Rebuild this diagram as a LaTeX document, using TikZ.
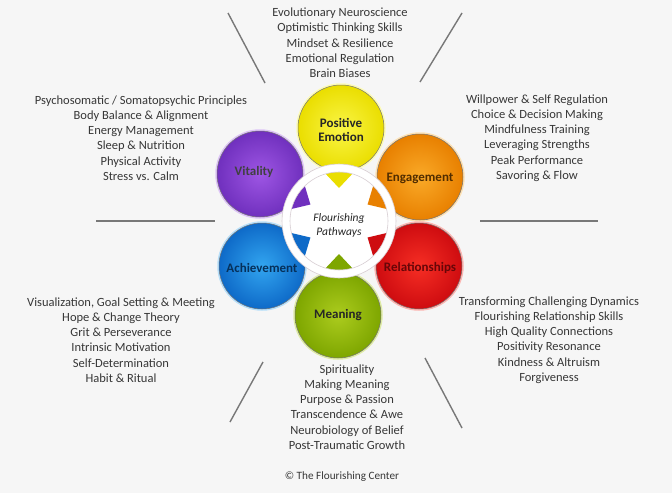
\documentclass[tikz,border=0pt]{standalone}
\usepackage{fontspec}
\setmainfont{Carlito}
\usetikzlibrary{calc}
\definecolor{bg}{RGB}{246,246,246}
\definecolor{txtgray}{RGB}{55,55,55}
\definecolor{linegray}{RGB}{120,120,120}
\definecolor{yi}{RGB}{250,245,70}
\definecolor{yo}{RGB}{234,222,0}
\definecolor{vi}{RGB}{158,86,228}
\definecolor{vo}{RGB}{112,48,190}
\definecolor{ei}{RGB}{250,170,40}
\definecolor{eo}{RGB}{232,128,0}
\definecolor{ai}{RGB}{50,165,240}
\definecolor{ao}{RGB}{14,106,200}
\definecolor{ri}{RGB}{246,46,36}
\definecolor{ro}{RGB}{206,12,16}
\definecolor{mi}{RGB}{172,204,30}
\definecolor{mo}{RGB}{126,166,0}
\definecolor{ringedge}{RGB}{215,205,210}
\begin{document}
\begin{tikzpicture}[x=1pt,y=-1pt,
  petal/.style n args={3}{circle, minimum size=86pt, inner sep=0pt,
    inner color=#1, outer color=#2, draw=black!55, line width=0.5pt,
    preaction={draw=#3, line width=3.5pt}},
  plabel/.style={font=\fontsize{13}{14}\selectfont\bfseries, align=center, inner sep=0pt},
  txt/.style={align=center, font=\fontsize{12.5}{15.3}\selectfont, text=txtgray, inner sep=0pt},
  deco/.style={draw=linegray, line width=1.4pt}]
\useasboundingbox (0,0) rectangle (672,493);
\fill[bg] (0,0) rectangle (672,493);

% petals
\node[petal={yi}{yo}{yi!40}] (pe) at (341,128) {};
\node[petal={vi}{vo}{vi!35}] (vt) at (260,174) {};
\node[petal={ei}{eo}{ei!35}] (en) at (420,177) {};
\node[petal={ai}{ao}{ai!35}] (ac) at (262,266) {};
\node[petal={ri}{ro}{ri!35}] (re) at (419,266) {};
\node[petal={mi}{mo}{mi!40}] (me) at (338,315) {};

% centre
\coordinate (c) at (339,221);
\fill[white] (c) circle (52);
\foreach \a/\col in {270/yo,210/vo,330/eo,150/ao,30/ro,90/mo}{
  \fill[\col] ($(c)+(\a:33)$) -- ($(c)+(\a+18:53)$) -- ($(c)+(\a-18:53)$) -- cycle;
}
\draw[white, line width=8pt] (c) circle (53);
\draw[ringedge, line width=0.6pt] (c) circle (49) (c) circle (57);
\node[font=\fontsize{11.5}{14}\selectfont\itshape, align=center, text=black!85, inner sep=0pt] (fp) at (339,225) {Flourishing\\Pathways};

% petal labels
\node[plabel, text=black!85] (pel) at (341,130) {Positive\\Emotion};
\node[plabel, text=black!75] (vtl) at (254,172) {Vitality};
\node[plabel, text=black!65!eo] (enl) at (420,178) {Engagement};
\node[plabel, text=ao!45!black] (acl) at (262,268) {Achievement};
\node[plabel, text=ro!50!black] (rel) at (420,268) {Relationships};
\node[plabel, text=black!85] (mel) at (338,315) {Meaning};

% decorative lines
\coordinate (tl1) at (228,13); \coordinate (tl2) at (265,83);
\coordinate (tr1) at (462,13); \coordinate (tr2) at (420,82);
\coordinate (l1) at (96,221);  \coordinate (l2) at (215,221);
\coordinate (r1) at (480,221); \coordinate (r2) at (598,221);
\coordinate (bl1) at (263,362); \coordinate (bl2) at (230,422);
\coordinate (br1) at (425,358); \coordinate (br2) at (462,428);
\draw[deco] (tl1) -- (tl2);
\draw[deco] (tr1) -- (tr2);
\draw[deco] (l1) -- (l2);
\draw[deco] (r1) -- (r2);
\draw[deco] (bl1) -- (bl2);
\draw[deco] (br1) -- (br2);

% text blocks
\node[txt] (tpos) at (340,43) {Evolutionary Neuroscience\\Optimistic Thinking Skills\\Mindset \& Resilience\\Emotional Regulation\\Brain Biases};
\node[txt] (tvit) at (141,138) {Psychosomatic / Somatopsychic Principles\\Body Balance \& Alignment\\Energy Management\\Sleep \& Nutrition\\Physical Activity\\Stress vs. Calm};
\node[txt] (teng) at (537,138) {Willpower \& Self Regulation\\Choice \& Decision Making\\Mindfulness Training\\Leveraging Strengths\\Peak Performance\\Savoring \& Flow};
\node[txt] (tach) at (121,340) {Visualization, Goal Setting \& Meeting\\Hope \& Change Theory\\Grit \& Perseverance\\Intrinsic Motivation\\Self-Determination\\Habit \& Ritual};
\node[txt] (trel) at (549,340) {Transforming Challenging Dynamics\\Flourishing Relationship Skills\\High Quality Connections\\Positivity Resonance\\Kindness \& Altruism\\Forgiveness};
\node[txt] (tmea) at (347,407) {Spirituality\\Making Meaning\\Purpose \& Passion\\Transcendence \& Awe\\Neurobiology of Belief\\Post-Traumatic Growth};
\node[txt, font=\fontsize{11.2}{13}\selectfont] (copy) at (342,477) {© The Flourishing Center};
\end{tikzpicture}
\end{document}
